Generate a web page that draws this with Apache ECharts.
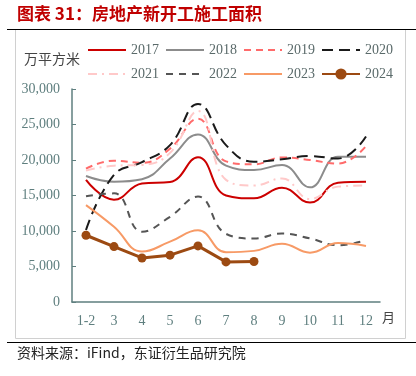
<!DOCTYPE html>
<html>
<head>
<meta charset="utf-8">
<script src="https://cdn.jsdelivr.net/npm/echarts@6/dist/echarts.min.js"></script>
<style>
  html, body { margin: 0; padding: 0; background: #fff; }
  #main { width: 416px; height: 376px; }
</style>
</head>
<body>
<div id="main"></div>
<script>
// 月份
const months = ['1-2', '3', '4', '5', '6', '7', '8', '9', '10', '11', '12']
const yTicks = [0, 5000, 10000, 15000, 20000, 25000, 30000]

// 各年新开工施工面积（万平方米）
const y2017 = [17200, 14400, 16700, 16900, 20400, 15000, 14600, 16100, 14000, 16800, 16950]
const y2018 = [17750, 16950, 17300, 20200, 23600, 19200, 18600, 19300, 16150, 20450, 20450]
const y2019 = [18800, 19900, 19600, 21600, 25800, 19800, 19400, 20350, 20000, 19500, 21950]
const y2020 = [10150, 17900, 19700, 22100, 27900, 22100, 19750, 20100, 20550, 20200, 23300]
const y2021 = [18500, 19200, 19300, 21000, 26900, 17200, 16400, 17400, 14500, 16250, 16400]
const y2022 = [14900, 15300, 9900, 12000, 14850, 9600, 8950, 9650, 8950, 8000, 8700]
const y2023 = [13650, 10600, 7100, 8500, 10100, 7000, 7200, 8200, 6950, 8300, 7900]
const y2024 = [9400, 7800, 6200, 6600, 7900, 5650, 5700]

const axisColor = '#5f7f7f'
const serif = '"Liberation Serif", "DejaVu Serif", serif'
const cjk = '"Noto Sans CJK SC", sans-serif'

let chart = echarts.init(document.getElementById('main'))

const mk = (name, data, color, type, extra) => Object.assign({
  name: name,
  type: 'line',
  data: data,
  smooth: 0.45,
  symbol: 'none',
  lineStyle: { color: color, width: 2, type: type },
  itemStyle: { color: color }
}, extra || {})

// 图例里只画线，不画圆点（2024除外）
const legendItem = name => name === '2024' ? { name: name } : { name: name, itemStyle: { opacity: 0 } }

const legendBase = {
  left: 82,
  itemWidth: 38,
  itemHeight: 14,
  itemGap: 6,
  textStyle: { fontFamily: serif, fontSize: 14, color: '#5a6a6a' }
}

chart.setOption({
  animation: false,
  legend: [
    Object.assign({ top: 38, data: ['2017', '2018', '2019', '2020'].map(legendItem) }, legendBase),
    Object.assign({ top: 62, data: ['2021', '2022', '2023', '2024'].map(legendItem) }, legendBase)
  ],
  grid: { left: 72, right: 36, top: 89, bottom: 74 },
  xAxis: {
    type: 'category',
    data: months,
    boundaryGap: true,
    axisLine: { lineStyle: { color: axisColor, width: 1.5 } },
    axisTick: { inside: true, length: 4, lineStyle: { color: axisColor } },
    axisLabel: { fontFamily: serif, fontSize: 14, color: '#5f7f7f', margin: 12 }
  },
  yAxis: {
    type: 'value',
    min: yTicks[0],
    max: yTicks[yTicks.length - 1],
    interval: 5000,
    splitLine: { show: false },
    axisLine: { show: true, lineStyle: { color: axisColor, width: 1.5 } },
    axisTick: { show: true, inside: true, length: 4, lineStyle: { color: axisColor } },
    axisLabel: {
      fontFamily: serif, fontSize: 14, color: '#5f7f7f', margin: 12,
      formatter: v => v.toLocaleString('en-US')
    }
  },
  series: [
    mk('2017', y2017, '#cc0000', 'solid'),
    mk('2018', y2018, '#8c8c8c', 'solid'),
    mk('2019', y2019, '#ff6b6b', [7, 5]),
    mk('2020', y2020, '#1a1a1a', [11, 6]),
    mk('2021', y2021, '#ffc9c9', [9, 5, 2, 5]),
    mk('2022', y2022, '#555555', [7, 6]),
    mk('2023', y2023, '#f79a66', 'solid'),
    mk('2024', y2024, '#9c4a12', 'solid', {
      smooth: false,
      symbol: 'circle',
      symbolSize: 9,
      lineStyle: { color: '#9c4a12', width: 3 }
    })
  ],
  graphic: [
    { type: 'text', left: 17, top: 5,
      style: { text: '图表 31：房地产新开工施工面积', fill: '#c00000', font: 'bold 17px ' + cjk } },
    { type: 'line', shape: { x1: 7, y1: 29.5, x2: 416, y2: 29.5 }, style: { stroke: '#000', lineWidth: 1 } },
    { type: 'rect', shape: { x: 15.5, y: 29.5, width: 390, height: 309 },
      style: { fill: 'none', stroke: '#d0d0d0', lineWidth: 1 }, z: -1 },
    { type: 'text', left: 24, top: 52,
      style: { text: '万平方米', fill: '#444', font: '14px ' + cjk } },
    { type: 'text', left: 382, top: 311,
      style: { text: '月', fill: '#444', font: '13px ' + cjk } },
    { type: 'line', shape: { x1: 7, y1: 342.5, x2: 416, y2: 342.5 }, style: { stroke: '#000', lineWidth: 1 } },
    { type: 'text', left: 17, top: 346,
      style: { text: '资料来源：iFind，东证衍生品研究院', fill: '#222', font: '14px ' + cjk } }
  ]
})
</script>
</body>
</html>
